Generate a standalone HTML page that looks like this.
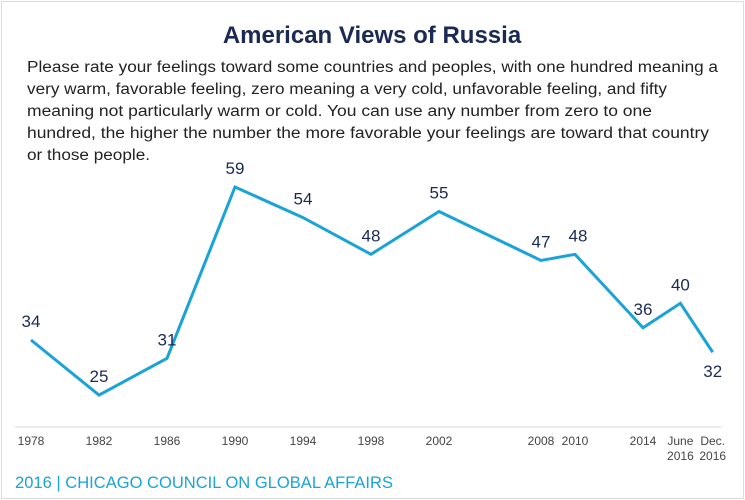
<!DOCTYPE html>
<html><head><meta charset="utf-8"><style>
body{margin:0;background:#fff;}
#wrap{position:relative;width:745px;height:500px;overflow:hidden;font-family:"Liberation Sans",sans-serif;}
svg{position:absolute;left:0;top:0}
</style></head><body>
<div id="wrap">
<svg width="745" height="500" id="chart">
<rect x="1.5" y="1.5" width="742" height="497" fill="#fff" stroke="#dcdcdc"/>
<text x="372" y="43" text-anchor="middle" font-size="24" font-weight="bold" fill="#1b2a52">American Views of Russia</text>
<g font-size="15.5" fill="#222" lengthAdjust="spacingAndGlyphs">
<text x="27" y="72" textLength="691" lengthAdjust="spacingAndGlyphs">Please rate your feelings toward some countries and peoples, with one hundred meaning a</text>
<text x="27" y="94" textLength="640" lengthAdjust="spacingAndGlyphs">very warm, favorable feeling, zero meaning a very cold, unfavorable feeling, and fifty</text>
<text x="27" y="116" textLength="625" lengthAdjust="spacingAndGlyphs">meaning not particularly warm or cold.  You can use any number from zero to one</text>
<text x="27" y="138" textLength="682" lengthAdjust="spacingAndGlyphs">hundred, the higher the number the more favorable your feelings are toward that country</text>
<text x="27" y="160" textLength="123" lengthAdjust="spacingAndGlyphs">or those people.</text>
</g>
<line x1="15" y1="427" x2="722" y2="427" stroke="#d8d8d8" stroke-width="1"/>
<text x="15" y="488" font-size="16.5" fill="#1aa3d6" textLength="378" lengthAdjust="spacingAndGlyphs">2016 | CHICAGO COUNCIL ON GLOBAL AFFAIRS</text>
<g id="marks"></g>
</svg>
</div>
<script>
const categories = ["1978","1982","1986","1990","1994","1998","2002","2008","2010","2014","June 2016","Dec. 2016"];
const xValues = [1978,1982,1986,1990,1994,1998,2002,2008,2010,2014,2016.2,2018.1];
const values = [34,25,31,59,54,48,55,47,48,36,40,32];
const tickLine1 = ["1978","1982","1986","1990","1994","1998","2002","2008","2010","2014","June","Dec."];
const tickLine2 = ["","","","","","","","","","","2016","2016"];

const xs = v => 31 + (v - 1978) * 17;
const ys = v => 187 + (59 - v) * 6.12;
const ns = "http://www.w3.org/2000/svg";
const g = document.getElementById('marks');

let d = values.map((v,i)=>(i?'L':'M')+xs(xValues[i])+','+ys(v)).join(' ');
const path = document.createElementNS(ns,'path');
path.setAttribute('d', d);
path.setAttribute('fill','none');
path.setAttribute('stroke','#1aa3d6');
path.setAttribute('stroke-width','3');


g.appendChild(path);

values.forEach((v,i)=>{
  const t = document.createElementNS(ns,'text');
  const below = i === values.length-1;
  let dx = 0;
  if (i === 8) dx = 3;
  t.setAttribute('x', xs(xValues[i]) + dx);
  t.setAttribute('y', below ? ys(v)+25 : ys(v)-13);
  t.setAttribute('text-anchor','middle');
  t.setAttribute('font-size','17');
  t.setAttribute('fill','#1b2a52');
  t.textContent = v;
  
  
  g.appendChild(t);

  const tk = document.createElementNS(ns,'text');
  const tx = xs(xValues[i]);
  tk.setAttribute('x', tx);
  tk.setAttribute('y', 445);
  tk.setAttribute('text-anchor','middle');
  tk.setAttribute('font-size','12');
  tk.setAttribute('fill','#444');
  tk.textContent = tickLine1[i];
  
  
  g.appendChild(tk);
  if (tickLine2[i]) {
    const tk2 = document.createElementNS(ns,'text');
    tk2.setAttribute('x', tx);
    tk2.setAttribute('y', 460);
    tk2.setAttribute('text-anchor','middle');
    tk2.setAttribute('font-size','12');
    tk2.setAttribute('fill','#444');
    tk2.textContent = tickLine2[i];
    
    
    g.appendChild(tk2);
  }
});
</script>
</body></html>
